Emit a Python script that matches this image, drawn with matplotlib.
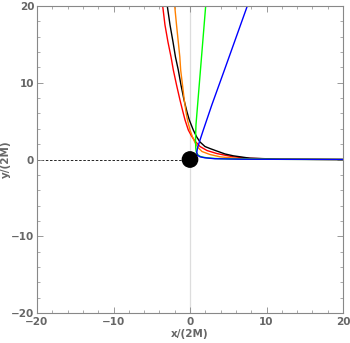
import numpy as np
import matplotlib
matplotlib.use('Agg')
from matplotlib import pyplot as plt
from matplotlib.patches import Circle

# photon paths, units of 2M
red_x = [-3.57, -3.27, -2.88, -2.48, -2.18, -1.76, -1.31, -0.92, -0.65, -0.22, 0.2, 0.65,
         1.31, 2.22, 3.49, 5.62, 7.84, 10.46, 14.38, 20]
red_y = [20, 17.52, 15.31, 13.36, 11.66, 9.71, 7.75, 6.19, 5.15, 3.84, 3.06, 2.41,
         1.69, 1.17, 0.78, 0.35, 0.16, 0.07, 0.03, 0.0]

black_x = [-2.97, -2.61, -2.22, -1.9, -1.53, -1.18, -0.78, -0.39, -0.09, 0.43, 0.88, 1.31,
           1.96, 2.61, 3.49, 4.58, 5.66, 7.84, 11.76, 20]
black_y = [20, 17.52, 15.31, 13.36, 11.66, 9.71, 7.75, 6.19, 5.15, 3.84, 2.93, 2.28,
           1.69, 1.43, 1.11, 0.72, 0.48, 0.17, 0.04, 0.0]

orange_x = [-2.0, -1.76, -1.53, -1.33, -1.22, -0.98, -0.75, -0.52, -0.33, 0.0, 0.33, 0.65,
            1.05, 1.57, 2.61, 3.92, 6.54, 10.46, 20]
orange_y = [20, 17.52, 15.31, 13.36, 11.66, 9.71, 7.75, 6.19, 5.15, 3.84, 2.93, 2.21,
            1.56, 1.04, 0.65, 0.35, 0.09, 0.03, 0.0]

green_x = [2.05, 0.78, 0.72, 0.75, 0.82, 0.98, 1.27, 1.7, 2.22, 3.27, 5.23, 9.15, 20]
green_y = [20, 4.5, 2.54, 1.5, 0.98, 0.65, 0.43, 0.3, 0.22, 0.13, 0.07, 0.03, 0.0]

blue_x = [7.49, 4.5, 2.85, 1.74, 1.31, 0.98, 0.88, 0.98, 1.31, 1.96, 3.27, 6.54, 20]
blue_y = [20, 11.66, 7.10, 3.84, 2.54, 1.5, 0.91, 0.55, 0.35, 0.22, 0.1, 0.04, 0.0]

paths = [(red_x, red_y, '#ff0000'), (black_x, black_y, '#000000'),
         (orange_x, orange_y, '#ff8000'), (green_x, green_y, '#00ff00'),
         (blue_x, blue_y, '#0000ff')]

fig = plt.figure(figsize=(3.5, 3.43), dpi=100)
ax = fig.add_axes([37/350, 30/343, 306/350, 307/343])

ax.axvline(0, color='#dddddd', lw=0.9, zorder=0)
ax.plot([-20, 0], [0, 0], color='black', lw=0.6, ls=(0, (3, 2)), zorder=1)

for px, py, c in paths:
    ax.plot(px, py, color=c, lw=1.0, zorder=2, solid_joinstyle='round')

ax.add_patch(Circle((0, 0), 1.0, color='black', zorder=5))

ax.set_xlim(-20, 20)
ax.set_ylim(-20, 20)
ax.set_xticks([-20, -10, 0, 10, 20])
ax.set_yticks([-20, -10, 0, 10, 20])
ax.set_xticks(np.arange(-20, 21, 2), minor=True)
ax.set_yticks(np.arange(-20, 21, 2), minor=True)
ax.set_xticklabels(['\u221220', '\u221210', '0', '10', '20'])
ax.set_yticklabels(['\u221220', '\u221210', '0', '10', '20'])

gray = '#666666'
for s in ax.spines.values():
    s.set_color('#888888')
    s.set_linewidth(0.8)
ax.tick_params(which='both', direction='in', top=True, right=True, colors='#888888',
               labelcolor=gray, labelsize=7.5, pad=2)
ax.tick_params(axis='x', which='major', pad=3)
ax.tick_params(which='major', length=4, width=0.6)
ax.tick_params(which='minor', length=2, width=0.5)
for lab in ax.get_xticklabels() + ax.get_yticklabels():
    lab.set_fontweight('bold')

ax.set_xlabel('x/(2M)', color=gray, fontsize=7.5, fontweight='bold', labelpad=1)
ax.set_ylabel('y/(2M)', color=gray, fontsize=7.5, fontweight='bold', labelpad=0)

fig.savefig('out.png', dpi=100)
